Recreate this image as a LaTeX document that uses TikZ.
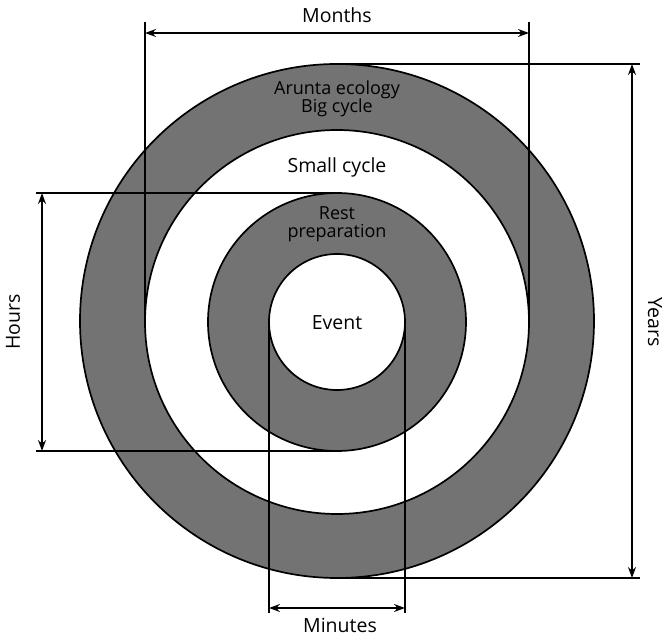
\documentclass[tikz,border=0pt]{standalone}
\usepackage{fontspec}
\setmainfont{Open Sans}
\usetikzlibrary{arrows.meta}
\begin{document}
\begin{tikzpicture}[x=1pt,y=-1pt,
  ring/.style={circle, draw=black, line width=1.7pt, inner sep=0pt, outer sep=0pt},
  grayring/.style={ring, fill=black!55},
  whitering/.style={ring, fill=white},
  guide/.style={line width=1.4pt},
  dim/.style={line width=1.4pt, {Stealth[length=11pt,width=8pt]}-{Stealth[length=11pt,width=8pt]}},
  lbl/.style={font=\fontsize{19.5}{22}\selectfont, inner sep=1pt},
  ringlbl/.style={font=\fontsize{18}{20}\selectfont, inner sep=1pt, align=center}
]
\useasboundingbox (0,0) rectangle (667,636);
% rings
\node[grayring, minimum size=514pt] (c1) at (337,321) {};
\node[whitering, minimum size=384pt] (c2) at (337,322) {};
\node[grayring, minimum size=258pt] (c3) at (337,322) {};
\node[whitering, minimum size=136pt] (c4) at (337,322) {};
% texts inside
\node[ringlbl] (t1) at (337,99) {Arunta ecology\\[-2pt]Big cycle};
\node[lbl] (t2) at (337,167) {Small cycle};
\node[ringlbl] (t3) at (337,224) {Rest\\[-2pt]preparation};
\node[lbl] (t4) at (337,323) {Event};
% helper coordinates
\coordinate (mtop) at (0,22);
\coordinate (marr) at (0,33);
\coordinate (hx) at (36,0);
\coordinate (harr) at (42,0);
\coordinate (yx) at (640,0);
\coordinate (yarr) at (632,0);
\coordinate (mbot) at (0,613);
\coordinate (minarr) at (0,608);
% Months
\draw[guide] (c2.west) -- (c2.west |- mtop);
\draw[guide] (c2.east) -- (c2.east |- mtop);
\draw[dim] (c2.west |- marr) -- (c2.east |- marr);
\node[lbl] (months) at (337,15) {Months};
% Hours
\draw[guide] (c3.north) -- (hx |- c3.north);
\draw[guide] (c3.south) -- (hx |- c3.south);
\draw[dim] (harr |- c3.north) -- (harr |- c3.south);
\node[lbl, rotate=90] (hours) at (13,322) {Hours};
% Years
\draw[guide] (c1.north) -- (yx |- c1.north);
\draw[guide] (c1.south) -- (yx |- c1.south);
\draw[dim] (yarr |- c1.north) -- (yarr |- c1.south);
\node[lbl, rotate=-90] (years) at (655,322) {Years};
% Minutes
\draw[guide] (c4.west) -- (c4.west |- mbot);
\draw[guide] (c4.east) -- (c4.east |- mbot);
\draw[dim] (c4.west |- minarr) -- (c4.east |- minarr);
\node[lbl] (minutes) at (340,625) {Minutes};
\end{tikzpicture}
\end{document}
